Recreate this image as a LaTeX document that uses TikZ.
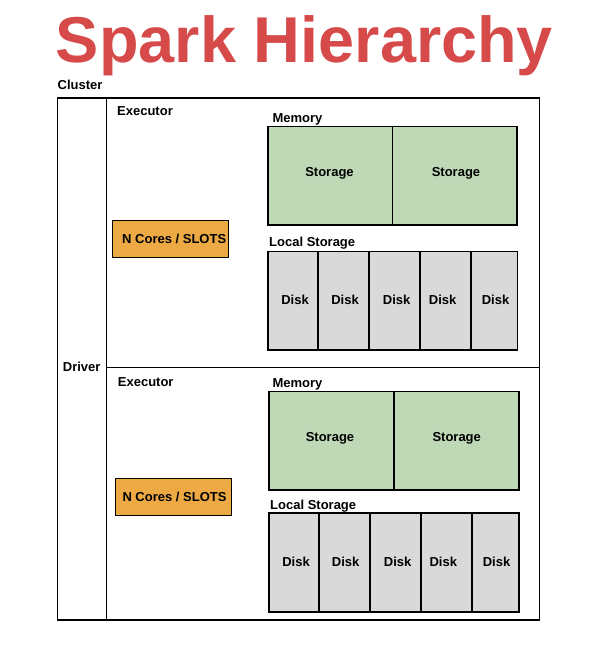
\documentclass[tikz,border=0pt]{standalone}
\usepackage{fontspec}
\setmainfont{Liberation Sans}
\definecolor{titlered}{HTML}{D64A4A}
\definecolor{memgreen}{HTML}{BFD9B7}
\definecolor{coreorange}{HTML}{ECA944}
\definecolor{diskgray}{HTML}{D9D9D9}
\begin{document}
\begin{tikzpicture}[x=1pt,y=-1pt,
  lbl/.style={inner sep=0pt, anchor=base west, font=\bfseries\fontsize{13}{15}\selectfont},
  ctext/.style={inner sep=0pt, anchor=base, font=\bfseries\fontsize{13}{15}\selectfont},
  cell/.style={draw=black, line width=1.2pt, inner sep=0pt, outer sep=0pt, anchor=north west},
  memcell/.style={cell, fill=memgreen, minimum height=98.5pt},
  diskcell/.style={cell, fill=diskgray},
  corebox/.style={cell, fill=coreorange, minimum width=116.4pt},
  divider/.style={draw=black, line width=1.2pt},
]
\useasboundingbox (0,0) rectangle (590,651);

% title
\node[inner sep=0pt, anchor=base, text=titlered, font=\bfseries\fontsize{64.8}{70}\selectfont] (title) at (304.5,62) {Spark Hierarchy};

% cluster
\node[lbl] (clusterlbl) at (57.5,89.5) {Cluster};
\node[cell, minimum width=482pt, minimum height=522pt] (cluster) at (57.5,98) {};
\coordinate (drvtop) at (106.5,98);
\coordinate (drvbot) at (106.5,620);
\draw[divider] (drvtop) -- (drvbot);
\coordinate (divl) at (106.5,367.3);
\coordinate (divr) at (539.5,367.3);
\draw[divider] (divl) -- (divr);
\node[lbl] (driver) at (62.7,371.7) {Driver};

% ---------- executor 1 ----------
\node[lbl] (exec1) at (117,115) {Executor};
\node[corebox, minimum height=36.6pt] (core1) at (112.3,220.7) {};
\node[lbl] (core1t) at (122,243.3) {N Cores / SLOTS};

\node[lbl] (mem1lbl) at (272.3,122.5) {Memory};
\node[memcell, minimum width=124.5pt] (m1a) at (268,126.5) {};
\node[memcell, minimum width=124.5pt] (m1b) at (392.5,126.5) {};
\node[ctext] (m1at) at (329.5,176) {Storage};
\node[ctext] (m1bt) at (456,176) {Storage};

\node[lbl] (ls1lbl) at (269,246.5) {Local Storage};
\node[diskcell, minimum width=50pt, minimum height=98.5pt] (d1a) at (268,251.5) {};
\node[diskcell, minimum width=51pt, minimum height=98.5pt] (d1b) at (318,251.5) {};
\node[diskcell, minimum width=51pt, minimum height=98.5pt] (d1c) at (369,251.5) {};
\node[diskcell, minimum width=51pt, minimum height=98.5pt] (d1d) at (420,251.5) {};
\node[diskcell, minimum width=46.5pt, minimum height=98.5pt] (d1e) at (471,251.5) {};
\node[ctext] (d1at) at (295,304) {Disk};
\node[ctext] (d1bt) at (345,304) {Disk};
\node[ctext] (d1ct) at (396.7,304) {Disk};
\node[ctext] (d1dt) at (442.7,304) {Disk};
\node[ctext] (d1et) at (495.5,304) {Disk};

% ---------- executor 2 ----------
\node[lbl] (exec2) at (117.7,386.7) {Executor};
\node[corebox, minimum height=37pt] (core2) at (115.3,478.3) {};
\node[lbl] (core2t) at (122.3,501.7) {N Cores / SLOTS};

\node[lbl] (mem2lbl) at (272.3,387.3) {Memory};
\node[memcell, minimum width=125pt] (m2a) at (269,391.5) {};
\node[memcell, minimum width=125pt] (m2b) at (394,391.5) {};
\node[ctext] (m2at) at (330,441) {Storage};
\node[ctext] (m2bt) at (456.7,441) {Storage};

\node[lbl] (ls2lbl) at (270,509.3) {Local Storage};
\node[diskcell, minimum width=50pt, minimum height=99pt] (d2a) at (269,513) {};
\node[diskcell, minimum width=51pt, minimum height=99pt] (d2b) at (319,513) {};
\node[diskcell, minimum width=51pt, minimum height=99pt] (d2c) at (370,513) {};
\node[diskcell, minimum width=51pt, minimum height=99pt] (d2d) at (421,513) {};
\node[diskcell, minimum width=47pt, minimum height=99pt] (d2e) at (472,513) {};
\node[ctext] (d2at) at (296,566) {Disk};
\node[ctext] (d2bt) at (345.7,566) {Disk};
\node[ctext] (d2ct) at (397.7,566) {Disk};
\node[ctext] (d2dt) at (443.3,566) {Disk};
\node[ctext] (d2et) at (496.5,566) {Disk};
\end{tikzpicture}
\end{document}
